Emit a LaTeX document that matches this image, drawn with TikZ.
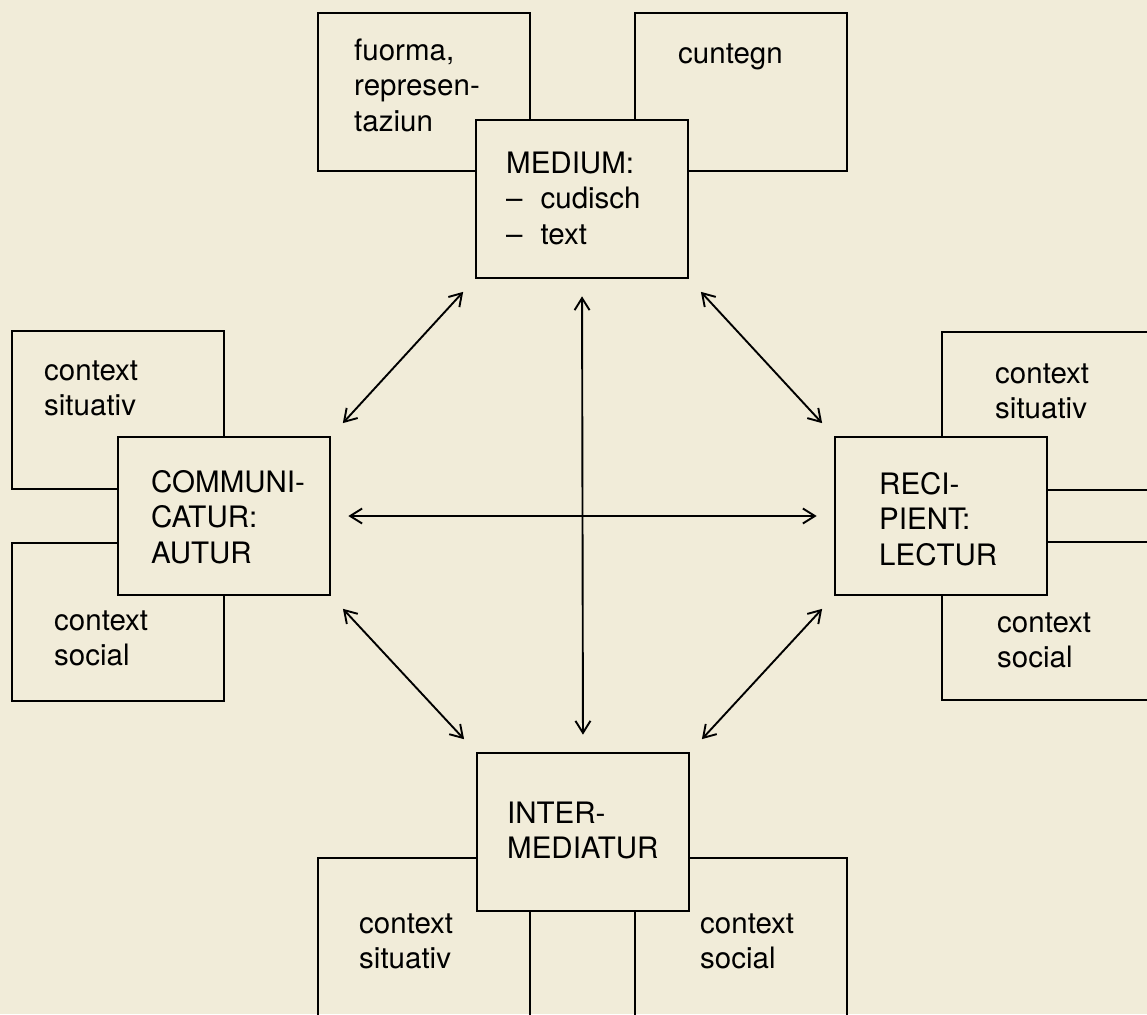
\documentclass[tikz,border=0pt]{standalone}
\usepackage{fontspec}
\setmainfont{TeX Gyre Heros}
\usetikzlibrary{arrows.meta}
\definecolor{paper}{HTML}{F1ECD9}
\newcommand{\topline}{\rule{0pt}{22pt}}
\begin{document}
\begin{tikzpicture}[x=1pt,y=-1pt,
    every node/.style={font=\fontsize{29.5}{35.5}\selectfont},
    box/.style={draw, line width=2.7pt, minimum width=212pt, minimum height=158pt, inner sep=0pt},
    mainbox/.style={box, fill=paper},
    txt/.style={anchor=north west, align=left, inner sep=0pt},
    arr/.style={{Straight Barb[length=12pt,width=15pt]}-{Straight Barb[length=12pt,width=15pt]},
                line width=1.9pt, shorten >=17pt, shorten <=17pt}]
    \fill[paper] (0,0) rectangle (1147,1014);
    \useasboundingbox (0,0) rectangle (1147,1014);
    \clip (0,0) rectangle (1147,1014);

    % context boxes behind
    \node[box] (form) at (424,92) {};
    \node[box] (cont) at (741,92) {};
    \node[box] (lsit) at (118,410) {};
    \node[box] (lsoc) at (118,622) {};
    \node[box] (rsit) at (1048,411) {};
    \node[box] (rsoc) at (1048,621) {};
    \node[box] (bsit) at (424,937) {};
    \node[box] (bsoc) at (741,937) {};

    % the four partners
    \node[mainbox] (med) at (582,199) {};
    \node[mainbox] (comm) at (224,516) {};
    \node[mainbox] (rec) at (941,516) {};
    \node[mainbox] (inter) at (583,832) {};

    \node[txt] (form-t) at (354,38) {\topline fuorma,\\represen-\\taziun};
    \node[txt] (cont-t) at (678,41) {\topline cuntegn};
    \node[txt] (med-t) at (506,151) {\topline MEDIUM:\\--\hspace{18pt}cudisch\\--\hspace{18pt}text};
    \node[txt] (comm-t) at (151,470) {\topline COMMUNI-\\CATUR:\\AUTUR};
    \node[txt] (rec-t) at (879,472) {\topline RECI-\\PIENT:\\LECTUR};
    \node[txt] (inter-t) at (507,801) {\topline INTER-\\MEDIATUR};
    \node[txt] (lsit-t) at (44,358) {\topline context\\situativ};
    \node[txt] (lsoc-t) at (54,608) {\topline context\\social};
    \node[txt] (rsit-t) at (995,361) {\topline context\\situativ};
    \node[txt] (rsoc-t) at (997,610) {\topline context\\social};
    \node[txt] (bsit-t) at (359,911) {\topline context\\situativ};
    \node[txt] (bsoc-t) at (700,911) {\topline context\\social};

    \path[arr] (comm.north east) edge (med.south west)
               (rec.north west) edge (med.south east)
               (comm.east) edge (rec.west)
               (med.south) edge (inter.north)
               (comm.south east) edge (inter.north west)
               (rec.south west) edge (inter.north east);
\end{tikzpicture}
\end{document}
